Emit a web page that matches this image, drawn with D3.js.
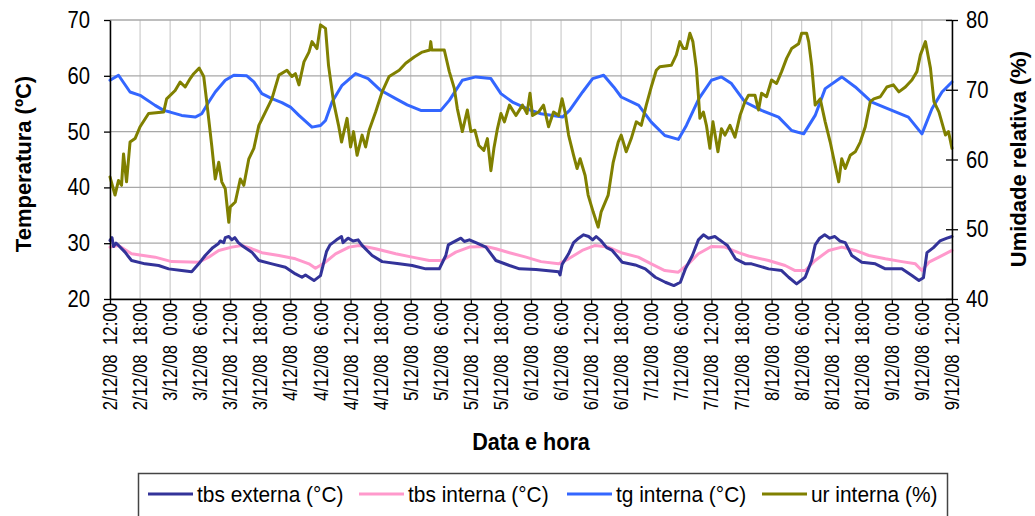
<!DOCTYPE html>
<html>
<head>
<meta charset="utf-8">
<script src="https://cdn.jsdelivr.net/npm/d3@7"></script>
<style>
html,body{margin:0;padding:0;background:#fff;}
svg{display:block;font-family:"Liberation Sans",Arial,sans-serif;}
text{white-space:pre;}
</style>
</head>
<body>
<svg id="chart" width="1035" height="516"></svg>
<script>
// ---- Data (hours since 2/12/08 12:00) ----
const xTickLabels = [
  "2/12/08  12:00","2/12/08  18:00","3/12/08  0:00","3/12/08  6:00",
  "3/12/08  12:00","3/12/08  18:00","4/12/08  0:00","4/12/08  6:00",
  "4/12/08  12:00","4/12/08  18:00","5/12/08  0:00","5/12/08  6:00",
  "5/12/08  12:00","5/12/08  18:00","6/12/08  0:00","6/12/08  6:00",
  "6/12/08  12:00","6/12/08  18:00","7/12/08  0:00","7/12/08  6:00",
  "7/12/08  12:00","7/12/08  18:00","8/12/08  0:00","8/12/08  6:00",
  "8/12/08  12:00","8/12/08  18:00","9/12/08  0:00","9/12/08  6:00",
  "9/12/08  12:00"
];
const leftTicks = [20,30,40,50,60,70];
const rightTicks = [40,50,60,70,80];
const seriesNames = ["tbs externa (°C)","tbs interna (°C)","tg interna (°C)","ur interna (%)"];
const seriesColors = ["#333399","#ff99cc","#3366ff","#808000"];

const tbsExtT = [0,0.4,0.7,1.2,1.7,3,3.5,4.3,7,9.7,11.7,14.3,16.3,17.7,19,20.5,21.6,22,22.7,23,23.7,24.3,24.9,25.6,26.3,28.3,29.7,32.3,35,37,38.3,39,40.7,42,42.5,43.2,43.9,45.2,46.2,46.5,47.5,48.5,49.5,50.3,52.3,54.3,57.7,60.3,63,65.7,67,67.5,68.5,70,70.7,71.7,73,75,77,79.7,81.7,85,89.5,89.8,90.2,91.5,92.5,93.5,94.5,95.5,96.3,97,98,99.1,100.2,102.2,104.8,106.8,108.8,110.8,112.5,113.8,114.8,116.2,117.4,118.4,119.4,120.7,121.6,122.4,123.2,124.8,126.8,128,131.4,134,135.4,137,138.7,140,140.7,141.6,142.6,143.6,144.6,145.6,146.7,148,150,152.7,154.7,158,160,161.4,162.3,163,164.3,165.6,167,168];
const tbsExtV = [30.5,31,29.4,30,29.6,28.4,27.8,26.9,26.3,26,25.4,25.1,24.9,26.3,27.8,29.2,29.9,30.4,30.1,31,31.2,30.6,31,30.1,29.6,28.4,26.9,26.3,25.7,24.5,23.9,24.3,23.3,24.2,26,28.5,29.7,30.6,31.2,30.1,30.9,30.4,30.6,29.6,27.8,26.7,26.3,26,25.4,25.4,27.8,29.7,30.2,30.9,30.3,30.6,30.1,29.3,26.9,26,25.4,25.3,24.9,24.3,26.2,28.1,30.1,30.9,31.5,31.2,30.6,31.2,30.4,29.2,28.7,26.6,26.1,25.4,23.9,23,22.4,23,25.4,27.8,30.6,31.5,30.9,31.2,30.6,30.1,29.6,27.2,26.3,26.3,25.4,25.1,23.9,22.7,23.9,26.9,29.7,30.9,31.5,30.9,31.2,30.4,30.1,27.8,26.6,26.3,25.4,25.4,24.2,23.3,23.8,28.3,29.2,30.4,30.9,31.2];

const tbsIntT = [0,1.7,4.3,9,12.3,17.7,19.7,21.7,24.3,26.3,28.3,30.3,33.7,37,39.7,41,43,45,47.7,49.7,53,57,60.3,63.7,66.3,69,71.7,75,77,79.7,83,86,89.5,91.5,94.2,96.8,99.4,102,105.4,108,110.7,113.4,115.4,117.4,120,122.7,125.4,127.4,131.4,134.7,136.7,138.7,140.7,143.4,146,148.7,151.4,154.7,158,160.7,162,163.4,165.4,168];
const tbsIntV = [29.3,29.6,28.1,27.5,26.7,26.6,27.5,28.7,29.3,29.6,29,28.3,27.8,27.2,26.3,25.5,26.6,28.1,29.3,29.6,29,28.1,27.5,26.9,26.9,28.4,29.3,29.4,29,28.3,27.5,26.7,26.3,27.2,28.7,29.6,29.3,28.3,27.5,26.3,25.1,24.8,26.3,28.1,29.4,29.3,28.3,27.7,26.9,26,25.1,25.1,26.9,28.7,29.3,28.7,27.8,27.2,26.7,26.3,25.1,26.6,27.5,28.7];

const tgIntT = [0,1.7,4,6,9,10.7,12,14.3,17,18.3,19.7,21,23,24.7,27.3,28.7,30.3,32.3,34.3,36,37.7,40.3,42,43,44.3,46.3,49,51.5,54,57,59.3,62,66,67.7,70.3,73,76,78,80.3,84,86,90.3,91.7,94.3,96.3,98.5,100.5,102,105.5,108,110.7,113.4,115,117.5,120,122,124,126.7,130,133.4,136,138.4,140.7,142.7,146,148.7,152,156,159.3,162,164,166,168];
const tgIntV = [59.2,60.1,57.1,56.5,54.7,53.8,53.5,52.9,52.6,53.2,55.3,57.1,59.2,60.1,60,58.9,56.8,55.9,55.2,54.4,52.9,50.8,51.1,52,55.3,58.3,60.4,59.5,57.4,55.9,54.8,53.8,53.8,55.6,59.2,59.8,59.5,56.8,55.3,53.8,53.2,52.6,53.8,57.1,59.5,60.1,58,56.2,54.7,51.7,49.3,48.6,51.1,55.9,59.2,59.8,58.6,55.3,53.8,52.6,50.2,49.6,52.9,57.7,59.8,58,55.3,53.8,52.6,49.6,54.1,57.1,58.9];

const urIntT = [0,1,1.7,2.3,2.7,3.3,4,5,6,7.7,10.7,11.3,13,14,15,16,16.7,17.8,18.7,19.3,20.3,21,21.7,22.3,23,23.7,24,25,26,26.7,27.7,28.7,29.7,31,32.3,33.7,35.3,36.3,37,37.7,38.7,39.7,40.3,41.3,42,43,43.6,44.6,45.6,46.2,47.3,48,48.6,49.3,50.3,51,51.7,53,54.3,55.7,57.7,59,60.7,62.3,63.8,64,64.2,66.7,67.7,68.7,69.3,70.3,71.3,72,72.8,73.6,74.6,75.3,76,76.6,77.3,78,78.7,79.7,81,82.3,83.2,83.8,84.3,85.5,86.5,87.5,88.5,89.5,90.2,90.8,91.5,92.5,93.2,93.8,94.8,95.4,96.4,97.4,98,99.4,100.4,101.4,102,103,104,105,106,107,108,109,109.7,112,113,113.7,114.4,115,115.7,116.3,117,117.4,117.7,118.4,119,119.7,120.3,121.3,122,122.7,123.7,124.7,125.7,126.7,127.4,128.7,129.4,130,131,132,133,134,135,136,137.4,138,139,139.4,140,140.7,141.7,142.7,143.7,144.4,145.4,146,146.7,147.7,148.7,149.7,150.7,151.7,152.4,153.7,155,156.3,157.4,158.7,160,161,161.7,162.7,163.7,164.4,165.4,166.7,167.3,168];
const urIntV = [57.5,54.9,57,56.3,60.8,56.8,62.5,63,64.7,66.6,66.8,68.7,69.9,71.1,70.4,71.6,72.3,73.1,71.9,68.3,62,57.2,59.6,56.8,55.8,51,53.2,53.9,57.2,56.3,60.1,61.6,64.9,66.8,68.7,72.1,72.8,71.9,72.3,70.7,74,75.4,76.9,75.9,79.3,78.8,73.5,68.3,64.9,62.5,65.9,61.8,64,60.6,63.5,61.8,64.2,66.8,69.7,71.9,72.8,73.8,74.7,75.4,75.7,76.9,75.7,75.7,72.6,70.2,67.3,64,67.1,64,64.2,62,61.3,63,58.4,61.6,64.4,66.6,65.4,67.8,66.3,67.8,66.6,69.5,66.3,66.8,67.8,64.7,66.8,66.3,68.7,66.8,63.5,60.6,58.7,60.1,57.7,54.9,52.5,50.3,52.5,54.9,59.6,62.5,63.5,61.1,63,65.4,64.9,67.8,70.4,72.8,73.3,73.5,75,76.9,75.9,75.9,78.1,76.9,73.1,69.2,65.9,66.8,64.9,61.6,65.4,61.1,64.4,63.5,64.9,63.2,66.3,68.3,69.2,69.2,67.1,69.5,69,71.4,70.9,72.6,74.5,75.9,76.6,78.1,78.1,76.9,73.5,67.8,68.7,65.4,62.5,60.1,56.8,60.1,58.7,60.6,61.1,62.5,64.7,68.3,68.7,69,70.4,70.7,69.7,70.4,71.4,72.6,75,76.9,73.1,68.3,66.8,63.5,64,61.6];

// ---- Layout ----
const svg = d3.select("#chart");
const x = d3.scaleLinear().domain([0,168]).range([110,952]);
const yL = d3.scaleLinear().domain([20,70]).range([299,20]);
const yR = d3.scaleLinear().domain([40,80]).range([299,20]);
const xTickVals = xTickLabels.map((d,i)=>i*6);

// text helper: condensed horizontally by k
function label(g, str, px, py, size, weight, anchor, rot, k){
  return g.append("g").attr("transform", `translate(${px},${py}) rotate(${rot||0}) scale(${k||1},1)`)
    .append("text").text(str)
    .attr("font-size", size).attr("font-weight", weight||"normal")
    .attr("text-anchor", anchor||"start").attr("fill","#000");
}

// gridlines
const grid = svg.append("g");
grid.selectAll("line.v").data(xTickVals).join("line")
  .attr("x1",d=>x(d)).attr("x2",d=>x(d)).attr("y1",yL(70)).attr("y2",yL(20))
  .attr("stroke","#cccccc").attr("stroke-width",1.2);
grid.selectAll("line.h").data(leftTicks).join("line")
  .attr("x1",x(0)).attr("x2",x(168)).attr("y1",d=>yL(d)).attr("y2",d=>yL(d))
  .attr("stroke","#a8a8a8").attr("stroke-width",1.3);

// series
const line = (ys)=>d3.line().x(d=>x(d[0])).y(d=>ys(d[1]));
const series = [
  {t:tbsIntT, v:tbsIntV, c:seriesColors[1], ys:yL},
  {t:tbsExtT, v:tbsExtV, c:seriesColors[0], ys:yL},
  {t:tgIntT, v:tgIntV, c:seriesColors[2], ys:yL},
  {t:urIntT, v:urIntV, c:seriesColors[3], ys:yR}
];
const plot = svg.append("g");
series.forEach(s=>{
  const pts = s.t.map((t,i)=>[t,s.v[i]]);
  plot.append("path").datum(pts).attr("d", line(s.ys))
    .attr("fill","none").attr("stroke",s.c).attr("stroke-width",3)
    .attr("stroke-linejoin","round").attr("stroke-linecap","round");
});

// axes
const axL = svg.append("g").attr("transform",`translate(${x(0)},0)`)
  .call(d3.axisLeft(yL).tickValues(leftTicks).tickSize(6).tickSizeOuter(0).tickFormat(""));
const axR = svg.append("g").attr("transform",`translate(${x(168)},0)`)
  .call(d3.axisRight(yR).tickValues(rightTicks).tickSize(6).tickSizeOuter(0).tickFormat(""));
axR.selectAll(".tick line").attr("x1",-6);
const axB = svg.append("g").attr("transform",`translate(0,${yL(20)})`)
  .call(d3.axisBottom(x).tickValues(xTickVals).tickSize(6).tickSizeOuter(0).tickFormat(""));
[axL,axR,axB].forEach(a=>{
  a.select(".domain").attr("stroke","#000").attr("stroke-width",1.5);
  a.selectAll(".tick line").attr("stroke","#000").attr("stroke-width",1.3);
});

// tick labels
const lab = svg.append("g");
leftTicks.forEach(v=>label(lab, String(v), 90, yL(v)+8, 23, "normal", "end", 0, 0.88));
rightTicks.forEach(v=>label(lab, String(v), 966, yR(v)+8, 23, "normal", "start", 0, 0.88));
xTickLabels.forEach((s,i)=>label(lab, s, x(xTickVals[i])+7, 303, 21, "normal", "end", -90, 0.8));

// axis titles
label(lab, "Temperatura (ºC)", 31, 164, 22, "bold", "middle", -90, 1);
label(lab, "Umidade relativa (%)", 1026, 159, 22, "bold", "middle", -90, 1);
label(lab, "Data e hora", 531, 450, 24, "bold", "middle", 0, 0.9);

// legend
const leg = svg.append("g");
leg.append("rect").attr("x",138.5).attr("y",473.5).attr("width",809).attr("height",60)
  .attr("fill","#fff").attr("stroke","#444").attr("stroke-width",1.5);
const legX = [148,359,567,762];
seriesNames.forEach((n,i)=>{
  leg.append("line").attr("x1",legX[i]).attr("x2",legX[i]+45).attr("y1",494).attr("y2",494)
    .attr("stroke",seriesColors[i]).attr("stroke-width",3);
  label(leg, n, legX[i]+49, 502, 22, "normal", "start", 0, 0.95);
});
</script>
</body>
</html>
